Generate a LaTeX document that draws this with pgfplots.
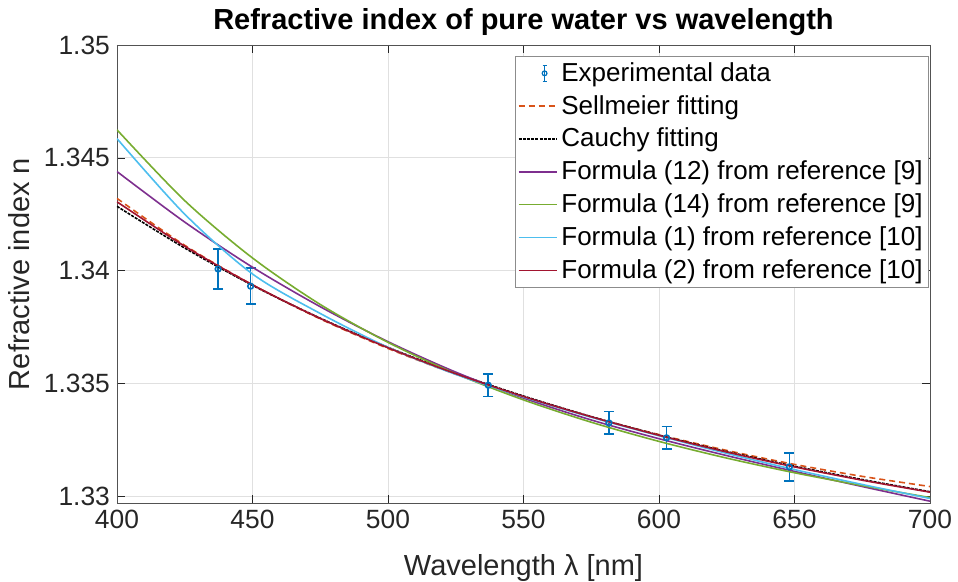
\documentclass[border=0pt]{standalone}
\usepackage{fontspec}
\setmainfont{Liberation Sans}
\usepackage{pgfplots}
\pgfplotsset{compat=1.18}

\definecolor{mblue}{rgb}{0,0.447,0.741}
\definecolor{morange}{rgb}{0.85,0.325,0.098}
\definecolor{mpurple}{rgb}{0.494,0.184,0.556}
\definecolor{mgreen}{rgb}{0.466,0.674,0.188}
\definecolor{mcyan}{rgb}{0.301,0.745,0.933}
\definecolor{mred}{rgb}{0.635,0.078,0.184}
\definecolor{axgray}{rgb}{0.15,0.15,0.15}

\begin{document}
\begin{tikzpicture}
\useasboundingbox (-58.5pt,-39.5pt) rectangle (420.5pt,251.5pt);
\begin{axis}[
    scale only axis,
    width=406.5pt,
    height=229pt,
    xmin=400, xmax=700,
    ymin=1.3297, ymax=1.35,
    xtick={400,450,...,700},
    ytick={1.33,1.335,1.34,1.345,1.35},
    scaled y ticks=false,
    /pgf/number format/assume math mode=true,
    yticklabel style={/pgf/number format/fixed, /pgf/number format/precision=3},
    tick label style={font=\fontsize{13.2}{15}\selectfont, text=axgray},
    tick align=inside,
    major tick length=4pt,
    axis line style={axgray!80},
    tick style={axgray},
    grid=major,
    grid style={black!12},
    title={\textbf{Refractive index of pure water vs wavelength}},
    title style={font=\fontsize{14.5}{17}\selectfont, yshift=-5pt},
    xlabel={Wavelength λ [nm]},
    ylabel={Refractive index n},
    label style={font=\fontsize{14.5}{17}\selectfont, text=axgray},
    xlabel style={yshift=-6pt},
    legend style={
        at={(1,1)}, anchor=north east, xshift=-0.5pt, yshift=-5.5pt,
        font=\fontsize{13}{16.2}\selectfont,
        draw=black!45, inner sep=1pt, row sep=1.5pt,
        cells={anchor=west},
    },
    legend image code/.code={\draw[#1] (0pt,0pt) -- (19pt,0pt);},
]
\addplot[mblue, only marks, mark=o, mark size=1.4pt, line width=0.8pt,
    error bars/.cd, y dir=both, y explicit,
    error bar style={mblue, line width=0.8pt},
    error mark options={rotate=90, mark size=2.5pt, mblue, line width=0.8pt},
    /pgfplots/legend image code/.code={
        \draw[mblue, line width=0.6pt] (13pt,-4pt) -- (13pt,4pt) (12pt,4pt) -- (14pt,4pt) (12pt,-4pt) -- (14pt,-4pt);
        \draw[mblue, line width=0.6pt] (13pt,0pt) circle (1.2pt);}
] coordinates {
    (437.3,1.34007) +- (0,0.00089)
    (449.3,1.33931) +- (0,0.00080)
    (537.0,1.33492) +- (0,0.00050)
    (581.5,1.33325) +- (0,0.00050)
    (602.8,1.33259) +- (0,0.00050)
    (648.1,1.33130) +- (0,0.00062)
};
\addlegendentry{Experimental data}
\addplot[morange, line width=0.8pt, dash pattern=on 3pt off 2pt, smooth] coordinates {
    (400,1.34320) (425,1.34112) (450,1.33937) (475,1.33786) (500,1.33655)
    (525,1.33541) (550,1.33441) (575,1.33352) (600,1.33273) (625,1.33203)
    (650,1.33141) (675,1.33088) (700,1.33043)
};
\addlegendentry{Sellmeier fitting}
\addplot[black, line width=0.8pt, dash pattern=on 1.5pt off 0.6pt, smooth] coordinates {
    (400,1.34285) (425,1.34100) (450,1.33935) (475,1.33789) (500,1.33660)
    (525,1.33545) (550,1.33444) (575,1.33353) (600,1.33271) (625,1.33198)
    (650,1.33133) (675,1.33074) (700,1.33020)
};
\addlegendentry{Cauchy fitting}
\addplot[mpurple, line width=0.8pt, smooth] coordinates {
    (400,1.34439) (425,1.34215) (450,1.34015) (475,1.33840) (500,1.33685)
    (525,1.33550) (550,1.33435) (575,1.33338) (600,1.33255) (625,1.33180)
    (650,1.33110) (675,1.33043) (700,1.32978)
};
\addlegendentry{Formula (12) from reference [9]}
\addplot[mgreen, line width=0.8pt, smooth] coordinates {
    (400,1.34624) (425,1.34310) (450,1.34056) (475,1.33850) (500,1.33682)
    (525,1.33543) (550,1.33427) (575,1.33328) (600,1.33243) (625,1.33169)
    (650,1.33104) (675,1.33047) (700,1.32994)
};
\addlegendentry{Formula (14) from reference [9]}
\addplot[mcyan, line width=0.8pt, smooth] coordinates {
    (400,1.34585) (425,1.34250) (450,1.33985) (475,1.33810) (500,1.33660)
    (525,1.33540) (550,1.33440) (575,1.33350) (600,1.33268) (625,1.33190)
    (650,1.33118) (675,1.33052) (700,1.32990)
};
\addlegendentry{Formula (1) from reference [10]}
\addplot[mred, line width=0.8pt, smooth] coordinates {
    (400,1.34305) (425,1.34108) (450,1.33937) (475,1.33788) (500,1.33658)
    (525,1.33543) (550,1.33442) (575,1.33352) (600,1.33270) (625,1.33196)
    (650,1.33130) (675,1.33071) (700,1.33018)
};
\addlegendentry{Formula (2) from reference [10]}
\end{axis}
\end{tikzpicture}
\end{document}
